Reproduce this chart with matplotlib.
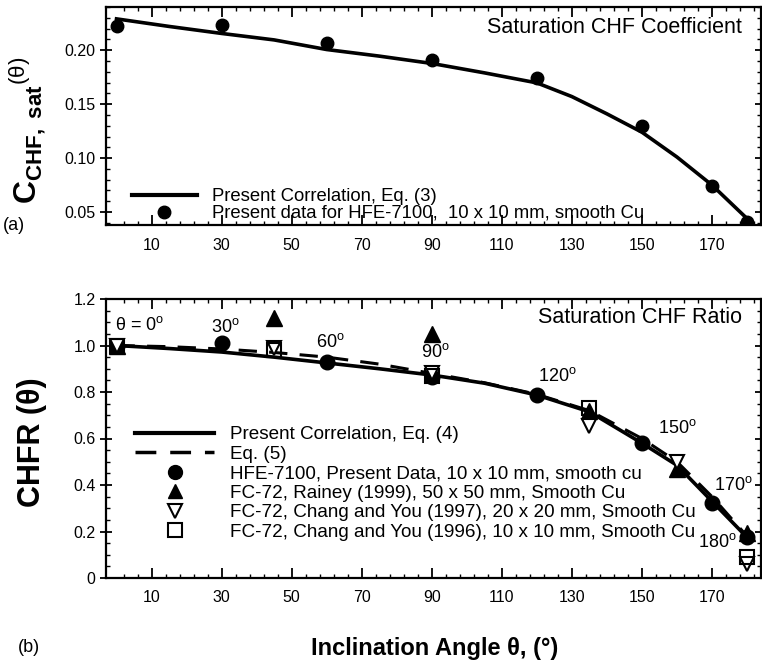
# CHF coefficient and CHF ratio vs. inclination angle, HFE-7100 on smooth Cu
import numpy as np
import matplotlib
matplotlib.use('Agg')
import matplotlib.pyplot as plt
from matplotlib.ticker import FixedLocator, MultipleLocator
from matplotlib.lines import Line2D

plt.rcParams['font.family'] = 'Liberation Sans'
plt.rcParams['mathtext.fontset'] = 'custom'
plt.rcParams['mathtext.rm'] = 'Liberation Sans'
plt.rcParams['mathtext.it'] = 'Liberation Sans:italic'
plt.rcParams['mathtext.bf'] = 'Liberation Sans:bold'

# (a) saturation CHF coefficient
theta_a = [0, 30, 60, 90, 120, 150, 170, 180]
csat_data = [0.222, 0.223, 0.2065, 0.1907, 0.1745, 0.130, 0.0744, 0.041]
theta_corr_a = [0, 15, 30, 45, 60, 75, 90, 105, 115, 120, 130, 140, 150, 160, 170, 180]
csat_corr = [0.229, 0.222, 0.2155, 0.2095, 0.2006, 0.1945, 0.1877, 0.179, 0.1728,
             0.1697, 0.157, 0.141, 0.124, 0.101, 0.075, 0.044]

# (b) saturation CHF ratio
theta_corr_b = [0, 15, 30, 45, 60, 75, 90, 105, 120, 135, 150, 160, 170, 180]
chfr_eq4 = [1.0, 0.987, 0.972, 0.95, 0.925, 0.90, 0.873, 0.838, 0.787, 0.715, 0.58, 0.485, 0.33, 0.175]
chfr_eq5 = [1.0, 0.995, 0.985, 0.97, 0.95, 0.92, 0.88, 0.84, 0.79, 0.72, 0.60, 0.50, 0.35, 0.18]

theta_hfe = [0, 30, 60, 90, 120, 150, 170, 180]
chfr_hfe = [1.0, 1.01, 0.93, 0.865, 0.787, 0.58, 0.323, 0.176]
theta_rainey = [0, 45, 90, 135, 160, 180]
chfr_rainey = [1.0, 1.12, 1.05, 0.72, 0.47, 0.195]
theta_cy97 = [0, 45, 90, 135, 160, 180]
chfr_cy97 = [1.0, 0.99, 0.88, 0.655, 0.50, 0.06]
theta_cy96 = [0, 45, 90, 135, 180]
chfr_cy96 = [1.0, 0.98, 0.87, 0.73, 0.09]

angle_labels = ['30', '60', '90', '120', '150', '170', '180']
angle_pos = [(31, 1.08), (61, 1.015), (91, 0.97), (126, 0.87),
             (160, 0.645), (176, 0.40), (171.5, 0.155)]

W, H = 762, 661
fig = plt.figure(figsize=(W / 100, H / 100), dpi=100)

def px(l, t, r, b):
    return [l / W, 1 - b / H, (r - l) / W, (b - t) / H]

ax1 = fig.add_axes(px(106, 7, 761, 225))
ax2 = fig.add_axes(px(106, 299, 761, 578))

for ax in (ax1, ax2):
    ax.set_xlim(-3, 184)
    ax.xaxis.set_major_locator(FixedLocator(np.arange(10, 180, 20)))
    ax.xaxis.set_minor_locator(FixedLocator(np.arange(2, 184, 4)))
    ax.tick_params(axis='x', which='both', direction='in', top=True, labelsize=11.5, pad=9)
    ax.tick_params(axis='x', which='major', length=7, width=1.3)
    ax.tick_params(axis='x', which='minor', length=3, width=1.0)
    ax.tick_params(axis='y', which='major', direction='inout', right=True,
                   length=8, width=1.3, labelsize=11.5)
    ax.tick_params(axis='y', which='minor', direction='in', right=True, length=3, width=1.0)
    for s in ax.spines.values():
        s.set_linewidth(1.6)

# panel (a)
ax1.plot(theta_corr_a, csat_corr, '-k', lw=2.6, zorder=2)
ax1.plot(theta_a, csat_data, 'o', color='k', ms=9, zorder=3)
ax1.set_ylim(0.038, 0.24)
ax1.yaxis.set_major_locator(FixedLocator([0.05, 0.10, 0.15, 0.20]))
ax1.yaxis.set_major_formatter(matplotlib.ticker.FormatStrFormatter('%.2f'))
ax1.yaxis.set_minor_locator(MultipleLocator(0.01))
ax1.text(0.971, 0.904, 'Saturation CHF Coefficient', transform=ax1.transAxes,
         ha='right', va='center', fontsize=15.5)

h_a = [Line2D([], [], color='k', lw=3),
       Line2D([], [], ls='none', marker='o', color='k', ms=9)]
fig.legend(h_a, ['Present Correlation, Eq. (3)',
                 'Present data for HFE-7100,  10 x 10 mm, smooth Cu'],
           loc='upper left', bbox_to_anchor=(132 / W, 1 - 188 / H), frameon=False,
           fontsize=13.3, handlelength=3.5, handletextpad=0.85, labelspacing=0.0,
           borderpad=0, borderaxespad=0)

# panel (b)
ax2.plot(theta_corr_b, chfr_eq4, '-k', lw=2.6, zorder=2)
ax2.plot(theta_corr_b, chfr_eq5, '--k', lw=2.2, dashes=(6, 4), zorder=2)
ax2.plot(theta_hfe, chfr_hfe, 'o', color='k', ms=10.5, zorder=3)
ax2.plot(theta_rainey, chfr_rainey, '^', color='k', ms=11, zorder=3)
ax2.plot(theta_cy97, chfr_cy97, 'v', mfc='white', mec='k', mew=1.5, ms=10, zorder=4)
ax2.plot(theta_cy96, chfr_cy96, 's', mfc='none', mec='k', mew=1.5, ms=10, zorder=4)
ax2.set_ylim(0, 1.2)
ax2.yaxis.set_major_locator(FixedLocator([0, 0.2, 0.4, 0.6, 0.8, 1.0, 1.2]))
ax2.yaxis.set_major_formatter(matplotlib.ticker.FuncFormatter(
    lambda v, p: '0' if v == 0 else '%.1f' % v))
ax2.yaxis.set_minor_locator(MultipleLocator(0.05))
ax2.text(0.971, 0.932, 'Saturation CHF Ratio', transform=ax2.transAxes,
         ha='right', va='center', fontsize=15.5)

ax2.text(-0.5, 1.09, r'θ = 0$^{\mathrm{o}}$', ha='left', va='center', fontsize=13)
for lab, (x, y) in zip(angle_labels, angle_pos):
    ax2.text(x, y, lab + r'$^{\mathrm{o}}$', ha='center', va='center', fontsize=13)

h_b = [Line2D([], [], color='k', lw=3),
       Line2D([], [], color='k', lw=2.5, ls='--', dashes=(6, 4)),
       Line2D([], [], ls='none', marker='o', color='k', ms=10),
       Line2D([], [], ls='none', marker='^', color='k', ms=10),
       Line2D([], [], ls='none', marker='v', mfc='white', mec='k', mew=1.5, ms=10),
       Line2D([], [], ls='none', marker='s', mfc='white', mec='k', mew=1.5, ms=10)]
fig.legend(h_b, ['Present Correlation, Eq. (4)',
                 'Eq. (5)',
                 'HFE-7100, Present Data, 10 x 10 mm, smooth cu',
                 'FC-72, Rainey (1999), 50 x 50 mm, Smooth Cu',
                 'FC-72, Chang and You (1997), 20 x 20 mm, Smooth Cu',
                 'FC-72, Chang and You (1996), 10 x 10 mm, Smooth Cu'],
           loc='upper left', bbox_to_anchor=(135 / W, 1 - 426 / H), frameon=False,
           fontsize=13.6, handlelength=4.2, handletextpad=0.85, labelspacing=0.12,
           borderpad=0, borderaxespad=0)

# axis labels and panel tags
fig.text(28 / W, 1 - 130 / H, r'${\mathbf{C}_{\mathbf{CHF,\ sat}}}^{\mathrm{(θ)}}$',
         rotation=90, ha='center', va='center', fontsize=23)
fig.text(32 / W, 1 - 442 / H, 'CHFR (θ)', rotation=90, ha='center', va='center',
         fontsize=22, fontweight='bold')
fig.text(435 / W, 1 - 648 / H, 'Inclination Angle θ, (°)', ha='center', va='center',
         fontsize=17, fontweight='bold')
fig.text(14 / W, 1 - 225 / H, '(a)', ha='center', va='center', fontsize=13)
fig.text(29 / W, 1 - 648 / H, '(b)', ha='center', va='center', fontsize=13)

plt.savefig('out.png', dpi=100)
